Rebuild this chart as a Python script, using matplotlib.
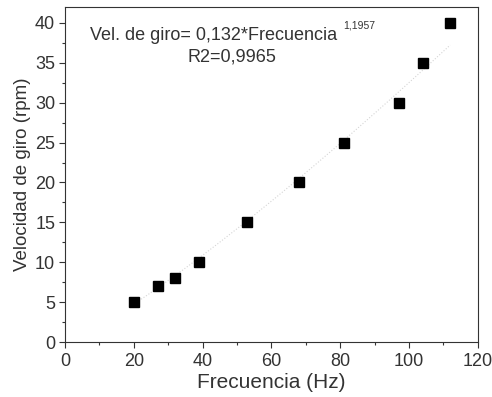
import matplotlib
matplotlib.use("Agg")
import matplotlib.pyplot as plt
from matplotlib.ticker import MultipleLocator
import numpy as np

# Data
frecuencia = [20, 27, 32, 39, 53, 68, 81, 97, 104, 112]
velocidad = [5, 7, 8, 10, 15, 20, 25, 30, 35, 40]

# Power-law fit shown on the chart
coef_a = 0.132
coef_b = 1.1957

plt.rcParams['font.family'] = ['Liberation Sans', 'DejaVu Sans']

fig = plt.figure(figsize=(4.92, 3.97), dpi=100)
ax = fig.add_axes([0.132, 0.1385, 0.839, 0.844])

f_fit = np.linspace(min(frecuencia), max(frecuencia), 200)
ax.plot(f_fit, coef_a * f_fit ** coef_b, color='#d5d5d5', lw=0.8, ls=':', zorder=1)
ax.plot(frecuencia, velocidad, ls='none', marker='s', ms=7.2, color='black', zorder=2)

ax.set_xlim(0, 120)
ax.set_ylim(0, 42)
ax.xaxis.set_major_locator(MultipleLocator(20))
ax.xaxis.set_minor_locator(MultipleLocator(10))
ax.yaxis.set_major_locator(MultipleLocator(5))
ax.yaxis.set_minor_locator(MultipleLocator(2.5))
ax.tick_params(which='major', direction='out', length=4, width=0.8, labelsize=13,
               colors='#333333', labelcolor='#333333')
ax.tick_params(axis='x', which='major', pad=4)
ax.tick_params(axis='y', which='major', pad=3)
ax.tick_params(which='minor', direction='out', length=2, width=0.8, colors='#333333')
for s in ax.spines.values():
    s.set_linewidth(0.8)
    s.set_color('#333333')

ax.set_xlabel('Frecuencia (Hz)', fontsize=15, labelpad=2, color='#333333')
ax.set_ylabel('Velocidad de giro (rpm)', fontsize=13.5, labelpad=3, color='#333333')

ax.text(0.0605, 0.916, 'Vel. de giro= 0,132*Frecuencia', transform=ax.transAxes,
        fontsize=13, va='center', ha='left', color='#333333')
ax.text(0.673, 0.946, '1,1957', transform=ax.transAxes, fontsize=7.5,
        va='center', ha='left', color='#333333')
ax.text(0.404, 0.851, 'R2=0,9965', transform=ax.transAxes, fontsize=13,
        va='center', ha='center', color='#333333')

fig.savefig('out.png', dpi=100)
